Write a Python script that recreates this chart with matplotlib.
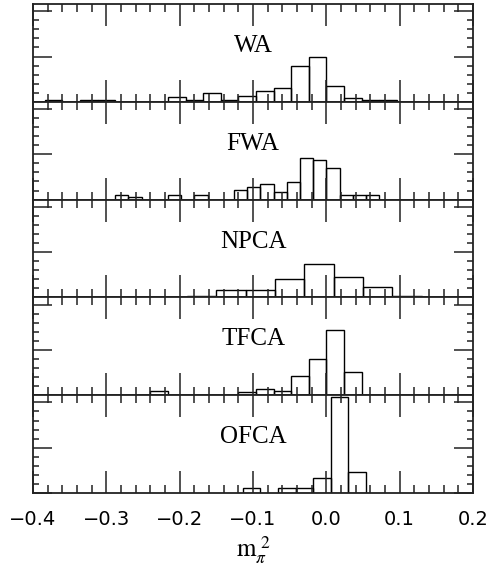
import matplotlib.pyplot as plt
from matplotlib.ticker import MultipleLocator

# panel names, bin widths, left bin edges and bar heights (arbitrary units)
names = ['WA', 'FWA', 'NPCA', 'TFCA', 'OFCA']
widths = [0.024, 0.018, 0.04, 0.024, 0.024]

wa_edges = [-0.384, -0.336, -0.312, -0.216, -0.192, -0.168, -0.144, -0.12,
            -0.096, -0.072, -0.048, -0.024, 0.0, 0.024, 0.048, 0.072]
wa_heights = [0.2, 0.2, 0.2, 0.5, 0.2, 1.0, 0.2, 0.67,
              1.2, 1.55, 4.0, 4.9, 1.7, 0.45, 0.2, 0.2]

fwa_edges = [-0.288, -0.27, -0.216, -0.18, -0.126, -0.108, -0.09, -0.072,
             -0.054, -0.036, -0.018, 0.0, 0.018, 0.036, 0.054]
fwa_heights = [0.5, 0.25, 0.5, 0.5, 1.1, 1.4, 1.67, 0.86,
               1.97, 4.6, 4.4, 3.5, 0.5, 0.5, 0.5]

npca_edges = [-0.27, -0.23, -0.19, -0.15, -0.11, -0.07, -0.03, 0.01, 0.05, 0.09]
npca_heights = [0.05, 0.05, 0.1, 0.86, 0.86, 2.0, 3.7, 2.3, 1.2, 0.1]

tfca_edges = [-0.24, -0.12, -0.096, -0.072, -0.048, -0.024, 0.0, 0.024]
tfca_heights = [0.44, 0.37, 0.63, 0.44, 2.1, 4.0, 7.2, 2.6]

ofca_edges = [-0.114, -0.066, -0.042, -0.018, 0.006, 0.03]
ofca_heights = [0.5, 0.6, 0.6, 1.6, 10.6, 2.3]

all_edges = [wa_edges, fwa_edges, npca_edges, tfca_edges, ofca_edges]
all_heights = [wa_heights, fwa_heights, npca_heights, tfca_heights, ofca_heights]

plt.rcParams['mathtext.fontset'] = 'stix'

fig, axes = plt.subplots(5, 1, sharex=True, figsize=(4.92, 5.66), dpi=100)
fig.subplots_adjust(left=0.0671, right=0.9614, bottom=0.129, top=0.9929, hspace=0)

for ax, name, w, edges, heights in zip(axes, names, widths, all_edges, all_heights):
    ax.bar(edges, heights, width=w, align='edge', fill=False,
           edgecolor='black', linewidth=1.0)
    ax.set_xlim(-0.4, 0.2)
    ax.set_ylim(0, 10.8)
    ax.xaxis.set_major_locator(MultipleLocator(0.1))
    ax.xaxis.set_minor_locator(MultipleLocator(0.02))
    ax.yaxis.set_major_locator(MultipleLocator(5))
    ax.yaxis.set_minor_locator(MultipleLocator(1))
    ax.tick_params(which='both', direction='in', top=True, right=True,
                   labelleft=False, color='#222222', width=1.1)
    ax.tick_params(axis='x', which='major', length=15.5, pad=12, labelsize=14)
    ax.tick_params(axis='x', which='minor', length=5.5)
    ax.tick_params(axis='y', which='major', length=13.5)
    ax.tick_params(axis='y', which='minor', length=4.3)
    for sp in ax.spines.values():
        sp.set_linewidth(1.3)
        sp.set_color('#222222')
    ax.text(-0.1, 0.57, name, transform=ax.get_xaxis_transform(),
            ha='center', va='center', fontsize=18, family='Liberation Serif')

axes[-1].set_xlabel(r'$\mathrm{m}_{\pi}^{\ 2}$', fontsize=18, labelpad=4)

plt.savefig('out.png')
